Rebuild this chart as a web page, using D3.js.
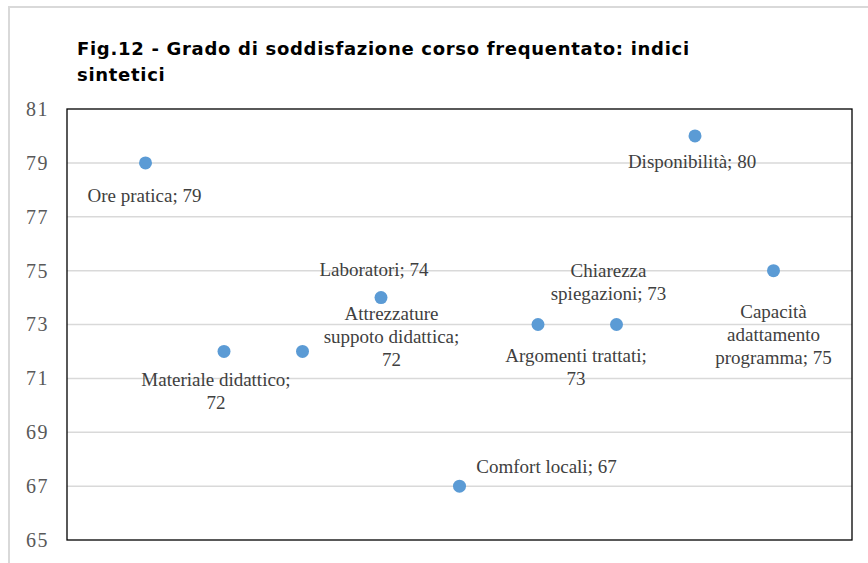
<!DOCTYPE html>
<html>
<head>
<meta charset="utf-8">
<script src="https://cdn.jsdelivr.net/npm/d3@7"></script>
<style>
  body { margin: 0; background: #fff; }
  svg { display: block; }
</style>
</head>
<body>
<div class="chart"></div>
<script>
// dati del grafico
var categorie = ["Ore pratica", "Materiale didattico", "Attrezzature suppoto didattica",
                 "Laboratori", "Comfort locali", "Argomenti trattati",
                 "Chiarezza spiegazioni", "Disponibilità", "Capacità adattamento programma"];
var posizioni = [1, 2, 3, 4, 5, 6, 7, 8, 9];
var valori = [79, 72, 72, 74, 67, 73, 73, 80, 75];
var yTicks = [65, 67, 69, 71, 73, 75, 77, 79, 81];
var titolo = ["Fig.12 - Grado di soddisfazione corso frequentato: indici", "sintetici"];

// posizione delle etichette (spostamento del centro rispetto al punto, larghezza di a capo)
var etichette = [
  {dx: -1, dy: 32, wrap: 200},
  {dx: -8, dy: 39, wrap: 165},
  {dx: 89, dy: -15, wrap: 150},
  {dx: -7, dy: -28, wrap: 200},
  {dx: 87, dy: -20, wrap: 200},
  {dx: 38, dy: 42, wrap: 155},
  {dx: -8, dy: -43, wrap: 125},
  {dx: -3, dy: 25, wrap: 200},
  {dx: 0, dy: 64, wrap: 130}
];

var W = 868, H = 563;
var margin = {top: 109, right: 16, bottom: 23, left: 67};
var w = W - margin.left - margin.right;
var h = H - margin.top - margin.bottom;
var lineH = 23;

var svg = d3.select(".chart").append("svg")
    .attr("width", W)
    .attr("height", H);

// bordo esterno del grafico
svg.append("rect")
    .attr("x", 9).attr("y", 7)
    .attr("width", 900).attr("height", 600)
    .attr("fill", "none")
    .attr("stroke", "#d9d9d9")
    .attr("stroke-width", 2);

svg.selectAll(".titolo")
    .data(titolo)
  .enter().append("text")
    .attr("class", "titolo")
    .attr("x", 77)
    .attr("y", function(d, i) { return 55 + i * 26; })
    .attr("font-family", "DejaVu Sans, Verdana, sans-serif")
    .attr("font-weight", "bold")
    .attr("font-size", "18px")
    .attr("letter-spacing", "0.7px")
    .attr("fill", "#000")
    .text(function(d) { return d; });

var g = svg.append("g")
    .attr("transform", "translate(" + margin.left + "," + margin.top + ")");

var x = d3.scaleLinear().domain([0, 10]).range([0, w]);
var y = d3.scaleLinear().domain([65, 81]).range([h, 0]);

// griglia
g.selectAll(".grid")
    .data(yTicks.slice(1, -1))
  .enter().append("line")
    .attr("class", "grid")
    .attr("x1", 0).attr("x2", w)
    .attr("y1", function(d) { return y(d); })
    .attr("y2", function(d) { return y(d); })
    .attr("stroke", "#d9d9d9")
    .attr("stroke-width", 1.5);

// asse y
var yAxis = d3.axisLeft(y).tickValues(yTicks).tickSize(0).tickPadding(18);
var ya = g.append("g").call(yAxis);
ya.select(".domain").remove();
ya.selectAll("text")
    .attr("font-family", "Liberation Serif, Times New Roman, serif")
    .attr("font-size", "20px")
    .attr("letter-spacing", "1.5px")
    .attr("fill", "#595959");

g.append("rect")
    .attr("width", w).attr("height", h)
    .attr("fill", "none")
    .attr("stroke", "#000")
    .attr("stroke-width", 1.3);

// punti
g.selectAll(".punto")
    .data(valori)
  .enter().append("circle")
    .attr("class", "punto")
    .attr("cx", function(d, i) { return x(posizioni[i]); })
    .attr("cy", function(d) { return y(d); })
    .attr("r", 6.5)
    .attr("fill", "#5b9bd5");

// etichette dei dati
var lab = g.selectAll(".etichetta")
    .data(valori)
  .enter().append("text")
    .attr("class", "etichetta")
    .attr("font-family", "Liberation Serif, Times New Roman, serif")
    .attr("font-size", "19px")
    .attr("fill", "#404040")
    .attr("text-anchor", "middle");

lab.each(function(d, i) {
  var t = d3.select(this);
  var parole = (categorie[i] + "; " + d).split(" ");
  var righe = [], cur = [];
  var tmp = t.append("tspan");
  parole.forEach(function(p) {
    var prova = cur.concat([p]).join(" ");
    tmp.text(prova);
    if (cur.length && tmp.node().getComputedTextLength() > etichette[i].wrap) {
      righe.push(cur.join(" "));
      cur = [p];
    } else {
      cur.push(p);
    }
  });
  righe.push(cur.join(" "));
  tmp.remove();
  var cx = x(posizioni[i]) + etichette[i].dx;
  var cy = y(d) + etichette[i].dy - (righe.length - 1) * lineH / 2;
  righe.forEach(function(r, k) {
    t.append("tspan")
      .attr("x", cx)
      .attr("y", cy + k * lineH)
      .attr("dy", "0.35em")
      .text(r);
  });
});
</script>
</body>
</html>
